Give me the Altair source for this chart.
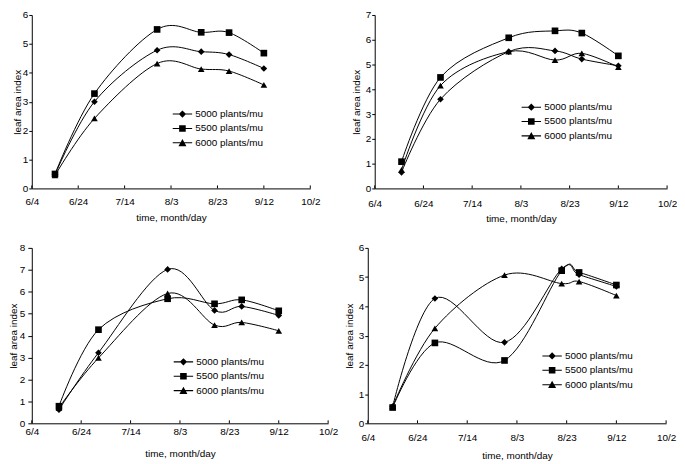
import altair as alt
import pandas as pd

FONT = "Liberation Sans"
x_tick_values = [0, 20, 40, 60, 80, 100, 120]
x_tick_labels = ["6/4", "6/24", "7/14", "8/3", "8/23", "9/12", "10/2"]
series_names = ["5000 plants/mu", "5500 plants/mu", "6000 plants/mu"]

# panel 1 (top-left)
p1_days = [10, 27, 54, 73, 85, 100]
p1_5000 = [0.48, 3.0, 4.78, 4.73, 4.63, 4.15]
p1_5500 = [0.5, 3.28, 5.5, 5.4, 5.39, 4.68]
p1_6000 = [0.45, 2.42, 4.32, 4.13, 4.06, 3.58]
# panel 2 (top-right)
p2_days = [11, 27, 55, 74, 85, 100]
p2_5000 = [0.65, 3.6, 5.52, 5.55, 5.22, 4.95]
p2_5500 = [1.08, 4.48, 6.08, 6.36, 6.27, 5.35]
p2_6000 = [0.75, 4.15, 5.52, 5.18, 5.45, 4.9]
# panel 3 (bottom-left)
p3_days = [11, 27, 55, 74, 85, 100]
p3_5000 = [0.62, 3.22, 7.02, 5.15, 5.33, 4.92]
p3_5500 = [0.78, 4.27, 5.68, 5.45, 5.63, 5.13]
p3_6000 = [0.71, 2.98, 5.92, 4.48, 4.6, 4.22]
# panel 4 (bottom-right)
p4_days = [10, 27, 55, 78, 85, 100]
p4_5000 = [0.57, 4.27, 2.77, 5.28, 5.08, 4.68]
p4_5500 = [0.54, 2.75, 2.15, 5.22, 5.16, 4.73]
p4_6000 = [0.58, 3.25, 5.07, 4.78, 4.85, 4.37]

point_shapes = ["diamond", "square", "triangle-up"]
LINE = "M-2.8,-0.15H2.8V0.15H-2.8Z"
legend_paths = [
    LINE + "M0,-1.05L1.05,0L0,1.05L-1.05,0Z",
    LINE + "M-0.95,-0.95H0.95V0.95H-0.95Z",
    LINE + "M0,-1.1L1.15,0.95H-1.15Z",
]

label_expr = "[" + ",".join("'%s'" % s for s in x_tick_labels) + "][round(datum.value/20)]"


def panel(days, s1, s2, s3, ymax, w, h, lx, ly, ytpad, xlpad, xtpad, ytick=3, ylpad=1):
    rows = []
    for name, vals in zip(series_names, [s1, s2, s3]):
        for d, v in zip(days, vals):
            rows.append({"day": d, "lai": v, "series": name})
    df = pd.DataFrame(rows)
    xscale = alt.Scale(domain=[0, 120], nice=False, zero=False)
    x = alt.X("day:Q", scale=xscale,
              axis=alt.Axis(values=x_tick_values, labelExpr=label_expr, ticks=False,
                            tickSize=0, labelPadding=xlpad, labelFlush=False,
                            title="time, month/day", titlePadding=xtpad))
    y = alt.Y("lai:Q", scale=alt.Scale(domain=[0, ymax], nice=False),
              axis=alt.Axis(values=list(range(ymax + 1)), title="leaf area index",
                            tickSize=ytick, labelPadding=ylpad, titlePadding=ytpad))
    ticks = alt.Chart(pd.DataFrame({"t": x_tick_values})).mark_rule(
        color="black", strokeWidth=1).encode(
        x=alt.X("t:Q", scale=xscale), y=alt.value(h), y2=alt.value(h - 3))
    lines = alt.Chart(df).mark_line(interpolate="cardinal", color="black",
                                    strokeWidth=1).encode(x=x, y=y, detail="series:N")
    pts = alt.Chart(df).mark_point(filled=True, color="black", opacity=1, size=45).encode(
        x=x, y=y,
        shape=alt.Shape("series:N", scale=alt.Scale(domain=series_names, range=point_shapes),
                        legend=None))
    leg = alt.Chart(df).transform_filter("datum.day < 0").mark_point(
        filled=True, color="black", opacity=1).encode(
        x=x, y=y,
        shape=alt.Shape("series:N", scale=alt.Scale(domain=series_names, range=legend_paths),
                        legend=alt.Legend(orient="none", legendX=lx, legendY=ly, title=None,
                                          symbolSize=49, symbolStrokeWidth=0,
                                          labelFont=FONT, labelFontSize=10, labelColor="black",
                                          labelOffset=8, rowPadding=4.5)))
    return alt.layer(ticks, lines, pts, leg).resolve_scale(shape="independent").properties(
        width=w, height=h)


c1 = panel(p1_days, p1_5000, p1_5500, p1_6000, 6, 281, 175, 147, 95, 0, 8, 6)
c2 = panel(p2_days, p2_5000, p2_5500, p2_6000, 7, 295, 175, 153, 88, 4, 10, 5)
c3 = panel(p3_days, p3_5000, p3_5500, p3_6000, 8, 299, 177, 148, 110, 1, 3, 12,
           ytick=4, ylpad=3)
c4 = panel(p4_days, p4_5000, p4_5500, p4_6000, 6, 301, 177, 181, 104, 4, 9, 9)

chart = alt.vconcat(
    alt.hconcat(c1, c2, spacing=31),
    alt.hconcat(c3, c4, spacing=6),
    spacing=20,
).properties(padding=0).configure_view(
    stroke=None).configure_axis(
    grid=False, domainColor="black", tickColor="black", labelColor="black",
    titleColor="black", labelFont=FONT, titleFont=FONT, labelFontSize=10,
    titleFontSize=10, titleFontWeight="normal", domainWidth=1, tickWidth=1,
).configure_legend(labelFont=FONT)

chart.save("out.html", embed_options={"renderer": "svg", "actions": False})
